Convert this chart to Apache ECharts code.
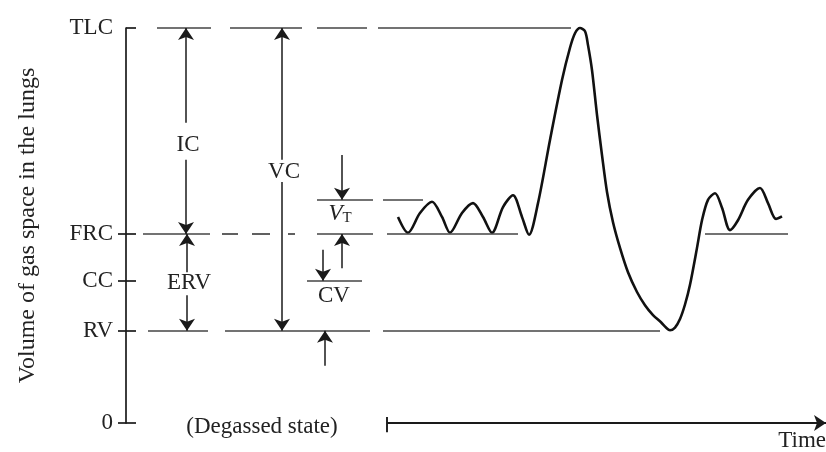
<!DOCTYPE html>
<html><head><meta charset="utf-8">
<script src="https://cdn.jsdelivr.net/npm/echarts@6/dist/echarts.min.js"></script>
<style>html,body{margin:0;padding:0;background:#fff}#c{width:826px;height:452px}</style>
</head><body><div id="c"></div>
<script>
// Lung volume levels (litres-like units, TLC = 6)
const levelNames = ['0', 'RV', 'CC', 'FRC', 'TLC'];
const levelValues = [0, 1.40, 2.16, 2.87, 6.00];
const vtTop = 3.39;

// Spirometer trace: time (arbitrary units) and volume
const traceTime = [272,282,294,306,316,324,336,347,357,366,377,387,396,403,412,424,436,444,449,454,459,462,466,471,476,481,487,494,502,511,519,527,535,540,544,549,554,559,564,571,576,582,589,596,604,612,622,634,642,650,656];
const traceVolume = [3.13,2.89,3.19,3.36,3.13,2.89,3.19,3.34,3.13,2.89,3.28,3.46,3.13,2.86,3.34,4.30,5.21,5.70,5.92,6.00,5.95,5.74,5.36,4.68,4.07,3.51,3.05,2.66,2.29,1.99,1.79,1.64,1.53,1.45,1.41,1.45,1.58,1.80,2.10,2.66,3.08,3.39,3.49,3.27,2.93,3.08,3.39,3.57,3.34,3.10,3.14];

// Guide line pieces (start time, end time) at each level
const tlcGuides = [[31,85],[104,176],[191,241],[252,445]];
const frcGuides = [[17,84],[96,112],[126,144],[162,169],[191,247],[261,392],[579,662]];
const rvGuides = [[22,82],[99,244],[257,534]];
const vtGuides = [[191,247],[257,297]];
const ccGuides = [[181,236]];

// Arrows: [time, from volume, to volume] (arrow head at "to")
const arrows = [
  [60, 4.56, 6.00], [60, 4.00, 2.87],      // IC
  [156, 4.00, 6.00], [156, 3.66, 1.40],    // VC
  [61, 2.29, 2.87], [61, 1.94, 1.40],      // ERV
  [216, 4.07, 3.39], [216, 2.35, 2.87],    // VT
  [197, 2.63, 2.16], [199, 0.87, 1.40]     // CV
];

// Text labels: [time, volume, text]
const labels = [
  [62, 4.22, 'IC'],
  [158, 3.81, 'VC'],
  [63, 2.13, 'ERV'],
  [214, 3.17, '{i|V}{s|T}'],
  [208, 1.93, 'CV'],
  [136, -0.06, '(Degassed state)'],
  [700, -0.27, 'Time']
];

// Time arrow on the baseline
const timeStart = 261, timeEnd = 700;
const timeBar = [-0.14, 0.09];

const FONT = '"Liberation Serif", "DejaVu Serif", serif';
const TXT = '#222';
const GUIDE = '#444';

function seg(x1, y1, x2, y2, s1, s2, style) {
  return [{coord: [x1, y1], symbol: s1}, {coord: [x2, y2], symbol: s2, lineStyle: style}];
}
const guideStyle = {color: GUIDE, width: 1.7, type: 'solid'};
const markData = [];
[[tlcGuides, levelValues[4]], [frcGuides, levelValues[3]], [rvGuides, levelValues[1]], [vtGuides, vtTop], [ccGuides, levelValues[2]]]
  .forEach(([g, v]) => g.forEach(([a, b]) => markData.push(seg(a, v, b, v, 'none', 'none', guideStyle))));
const arrowStyle = {color: '#1a1a1a', width: 1.5, type: 'solid'};
arrows.forEach(([x, y1, y2]) => markData.push(seg(x, y1, x, y2, 'none', 'arrow', arrowStyle)));
const axStyle = {color: '#1a1a1a', width: 1.9, type: 'solid'};
markData.push(seg(timeStart, 0, timeEnd, 0, 'none', 'arrow', axStyle));

const chart = echarts.init(document.getElementById('c'), null, {renderer: 'canvas'});
chart.setOption({
  animation: false,
  backgroundColor: '#fff',
  grid: {left: 126, right: 0, top: 28, bottom: 29, containLabel: false},
  xAxis: {type: 'value', min: 0, max: 700, show: false},
  yAxis: [{
    type: 'value', min: 0, max: 6,
    splitLine: {show: false},
    axisLine: {show: true, lineStyle: {color: '#1a1a1a', width: 1.7}},
    axisTick: {show: true, inside: false, length: 8, customValues: levelValues.slice(0, 4), lineStyle: {color: '#1a1a1a', width: 1.7}},
    axisLabel: {show: true, customValues: levelValues, margin: 13, color: TXT, fontFamily: FONT, fontSize: 23,
      formatter: v => { const i = levelValues.findIndex(l => Math.abs(l - v) < 1e-6); return i >= 0 ? levelNames[i] : ''; }},
    name: 'Volume of gas space in the lungs', nameLocation: 'middle', nameGap: 86,
    nameTextStyle: {color: TXT, fontFamily: FONT, fontSize: 24}
  }, {
    type: 'value', min: 0, max: 6, position: 'left', offset: 0,
    splitLine: {show: false}, axisLine: {show: false}, axisLabel: {show: false},
    axisTick: {show: true, inside: true, length: 10, customValues: levelValues, lineStyle: {color: '#1a1a1a', width: 1.7}}
  }],
  series: [{
    type: 'line', name: 'trace', clip: false, smooth: 0.3, showSymbol: false, symbol: 'none',
    lineStyle: {color: '#111', width: 2.6},
    data: traceTime.map((t, i) => [t, traceVolume[i]]),
    markLine: {silent: true, animation: false, symbolSize: 12, label: {show: false}, data: markData}
  }, {
    type: 'line', name: 'timeStart', clip: false, showSymbol: false, symbol: 'none', silent: true,
    lineStyle: {color: '#1a1a1a', width: 1.9},
    data: timeBar.map(v => [timeStart, v])
  }, {
    type: 'scatter', name: 'labels', clip: false, symbolSize: 0, silent: true,
    itemStyle: {opacity: 1},
    data: labels.map(([x, y, t]) => ({value: [x, y], name: t, label: {align: x > 600 ? 'right' : 'center'}})),
    label: {show: true, position: 'inside', formatter: p => p.name, color: TXT, opacity: 1, fontFamily: FONT, fontSize: 23,
      rich: {i: {fontStyle: 'italic', fontFamily: FONT, fontSize: 23, color: TXT},
             s: {fontFamily: FONT, fontSize: 15, color: TXT, padding: [7, 0, 0, 0]}}}
  }]
});
</script></body></html>
